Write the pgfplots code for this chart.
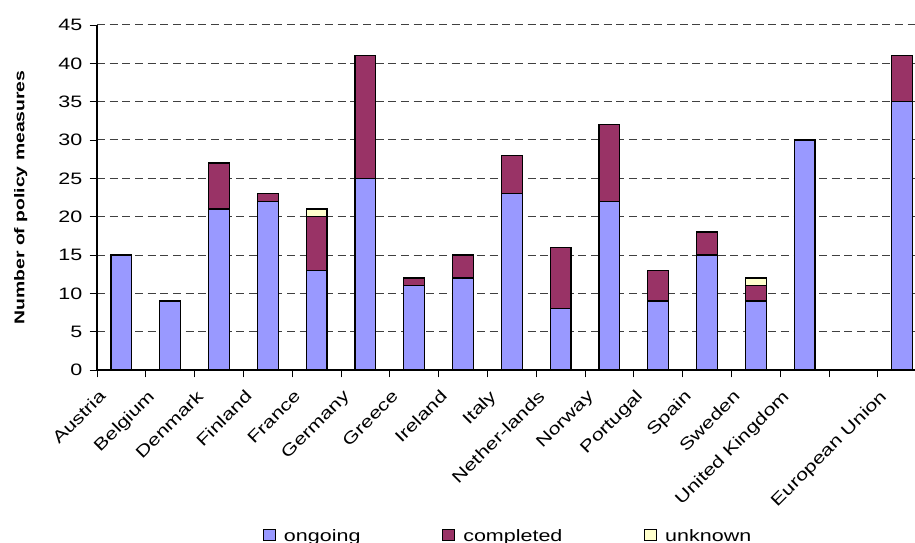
\documentclass[border=0pt]{standalone}
\usepackage{fontspec}
\setmainfont{Liberation Sans}
\newfontfamily\widefont[FakeStretch=1.3]{Liberation Sans}
\newfontfamily\labfont[FakeStretch=1.37]{Liberation Sans}
\usepackage{pgfplots}
\usepackage{pgfplotstable}
\pgfplotsset{compat=1.18}

\definecolor{ongoing}{HTML}{9999FF}
\definecolor{completed}{HTML}{993366}
\definecolor{unknown}{HTML}{FFFFCC}

% policy measures per country (position 15 is left empty)
\pgfplotstableread{
idx ongoing completed unknown
0   15  0  0
1   9   0  0
2   21  6  0
3   22  1  0
4   13  7  1
5   25  16 0
6   11  1  0
7   12  3  0
8   23  5  0
9   8   8  0
10  22  10 0
11  9   4  0
12  15  3  0
13  9   2  1
14  30  0  0
16  35  6  0
}\measures

\newcommand{\txt}{\widefont\fontsize{12.4pt}{14pt}\selectfont}

\pgfplotsset{
  sq legend/.style={legend image code/.code={%
    \draw[##1, draw=black, line width=0.6pt] (0pt,-3pt) rectangle (9pt,5pt);}},
}

\begin{document}
\begin{tikzpicture}
\begin{axis}[
  at={(72.75pt,129.75pt)}, anchor=south west,
  scale only axis, width=622.2pt, height=258.75pt,
  ybar stacked, bar width=0.43,
  xmin=-0.5, xmax=16.5, ymin=0, ymax=45,
  axis x line*=bottom, axis y line*=left,
  axis line style={-, black, line width=0.8pt},
  tick align=outside, major tick length=5.5pt,
  tick style={black, line width=0.6pt},
  xtick={-0.5,0.5,...,16.5}, xticklabels={},
  extra x ticks={0,...,16},
  extra x tick labels={Austria,Belgium,Denmark,Finland,France,Germany,Greece,Ireland,Italy,Nether-lands,Norway,Portugal,Spain,Sweden,United Kingdom,,European Union},
  extra x tick style={major tick length=0pt, grid=none,
    xticklabel style={font=\txt, xshift=-17.5pt, yshift=-14pt, rotate=45, anchor=north east, inner sep=0pt}},
  ytick={0,5,...,45},
  yticklabel style={font=\txt, xshift=-2pt},
  /pgf/number format/assume math mode=true,
  ymajorgrids,
  major grid style={dash pattern=on 6pt off 3.5pt, gray!50!black, line width=0.75pt},
  ylabel={Number of policy measures},
  ylabel style={at={(axis description cs:-0.092,0.5)}, anchor=center,
    font=\labfont\bfseries\fontsize{10.6pt}{12pt}\selectfont},
  legend columns=3,
  legend style={at={(axis description cs:0.2,-0.46)}, anchor=north west,
    draw=none, inner sep=0pt, font=\txt,
    nodes={inner sep=0pt},
    /tikz/every odd column/.append style={column sep=6pt},
    /tikz/every even column/.append style={column sep=61.5pt}},
  every axis plot/.append style={draw=black, line width=0.9pt},
]
\addplot[fill=ongoing, sq legend] table[x=idx, y=ongoing] {\measures};
\addplot[fill=completed, sq legend] table[x=idx, y=completed] {\measures};
\addplot[fill=unknown, sq legend] table[x=idx, y=unknown] {\measures};
\legend{ongoing, completed, unknown}
\end{axis}
\pgfresetboundingbox
\path[use as bounding box] (0,0) rectangle (686.25pt,407.25pt);
\end{tikzpicture}
\end{document}
